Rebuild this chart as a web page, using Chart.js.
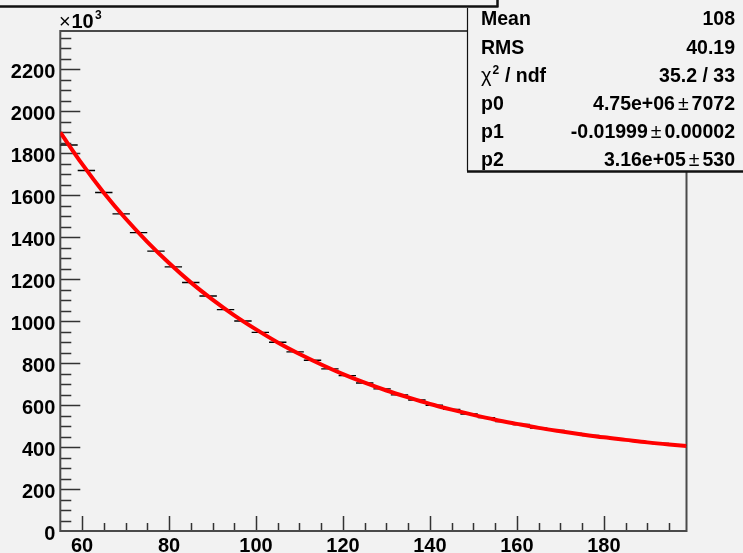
<!DOCTYPE html>
<html>
<head>
<meta charset="utf-8">
<script src="https://cdn.jsdelivr.net/npm/chart.js@4.4.1/dist/chart.umd.min.js"></script>
<style>
  html, body { margin: 0; padding: 0; background: #f2f2f2; }
  #wrap { width: 743px; height: 553px; position: relative; overflow: hidden; }
  canvas { display: block; }
</style>
</head>
<body>
<div id="wrap"><canvas id="c" width="743" height="553"></canvas></div>
<script>
// Histogram: bin centres (bin width 4) and contents in units of 10^3
const binCenters = [57, 61, 65, 69, 73, 77, 81, 85, 89, 93, 97, 101, 105, 109, 113, 117, 121, 125,
                    129, 133, 137, 141, 145, 149, 153, 157, 161, 165, 169, 173, 177, 181, 185, 189, 193, 197];
const binContents = [1838, 1717, 1612, 1510, 1421, 1333, 1258, 1183, 1119, 1054, 1000, 946, 899, 853, 813, 772, 740, 705,
                     677, 648, 624, 599, 579, 557, 540, 521, 507, 490, 479, 465, 455, 442, 435, 424, 417, 408];
const binHalfWidth = 2;

// Fitted curve sampled along the range
const fitX = [55, 60, 65, 70, 75, 80, 85, 90, 95, 100, 105, 110, 115, 120, 125, 130, 135, 140, 145,
              150, 155, 160, 165, 170, 175, 180, 185, 190, 195, 199];
const fitY = [1898, 1748, 1611, 1488, 1377, 1276, 1184, 1102, 1027, 960, 898, 843, 793, 747, 706, 669, 636, 605, 578,
              553, 530, 510, 491, 475, 460, 446, 434, 422, 412, 405];

// Axis ranges and labelled ticks
const xRange = [55, 199];
const yRange = [0, 2381];
const xTickValues = [60, 80, 100, 120, 140, 160, 180];
const yTickValues = [0, 200, 400, 600, 800, 1000, 1200, 1400, 1600, 1800, 2000, 2200];
const xMinorStep = 5;
const yMinorStep = 50;

// Statistics box rows: label, value, error
const statLabels = ['Mean', 'RMS', 'chi2', 'p0', 'p1', 'p2'];
const statValues = ['108', '40.19', '35.2 / 33', '4.75e+06', '-0.01999', '3.16e+05'];
const statErrors = [null, null, null, '7072', '0.00002', '530'];

const FONT = '"Liberation Sans", Arial, Helvetica, sans-serif';

const markerPoints = [];
binCenters.forEach((c, i) => {
  markerPoints.push({ x: c - binHalfWidth, y: binContents[i] });
  markerPoints.push({ x: c + binHalfWidth, y: binContents[i] });
  markerPoints.push({ x: c + binHalfWidth, y: null });
});
const fitPoints = fitX.map((x, i) => ({ x: x, y: fitY[i] }));

// Frame and inward-pointing tick marks
const framePlugin = {
  id: 'frameTicks',
  beforeDatasetsDraw(chart) {
    const { ctx, chartArea: a, scales: { x, y } } = chart;
    ctx.save();
    ctx.strokeStyle = '#333';
    ctx.lineWidth = 1.5;
    ctx.beginPath();
    for (let v = Math.ceil(yRange[0] / yMinorStep) * yMinorStep; v <= yRange[1]; v += yMinorStep) {
      if (v === yRange[0]) continue;
      const py = Math.round(y.getPixelForValue(v)) + 0.5;
      const len = (v % 200 === 0) ? 20 : 11;
      ctx.moveTo(a.left, py);
      ctx.lineTo(a.left + len, py);
    }
    for (let v = Math.ceil(xRange[0] / xMinorStep) * xMinorStep; v < xRange[1]; v += xMinorStep) {
      if (v === xRange[0]) continue;
      const px = Math.round(x.getPixelForValue(v)) + 0.5;
      const len = (v % 20 === 0) ? 15 : 8;
      ctx.moveTo(px, a.bottom);
      ctx.lineTo(px, a.bottom - len);
    }
    ctx.stroke();
    ctx.strokeStyle = '#4a4a4a';
    ctx.lineWidth = 2;
    ctx.strokeRect(a.left, a.top, a.right - a.left, a.bottom - a.top);
    ctx.restore();
  },
  afterDraw(chart) {
    const { ctx } = chart;
    ctx.save();
    // title pad (mostly above the canvas)
    ctx.fillStyle = '#f2f2f2';
    ctx.fillRect(0, -20, 498, 26);
    ctx.strokeStyle = '#111';
    ctx.lineWidth = 2.5;
    ctx.beginPath();
    ctx.moveTo(0, 6.5); ctx.lineTo(498, 6.5);
    ctx.moveTo(497.5, 0); ctx.lineTo(497.5, 7.5);
    ctx.stroke();

    // statistics box
    ctx.fillStyle = '#f2f2f2';
    ctx.fillRect(467, 8, 290, 163);
    ctx.strokeStyle = '#111';
    ctx.lineWidth = 1.2;
    ctx.beginPath();
    ctx.moveTo(467.5, 8); ctx.lineTo(467.5, 171);
    ctx.stroke();
    ctx.lineWidth = 2.6;
    ctx.beginPath();
    ctx.moveTo(467, 171.5); ctx.lineTo(743, 171.5);
    ctx.stroke();

    const baselines = [25, 53.5, 81.5, 110, 138, 166];
    const right = 735, left = 481;
    ctx.fillStyle = '#000';
    ctx.textBaseline = 'alphabetic';
    statLabels.forEach((lab, i) => {
      const by = baselines[i];
      ctx.textAlign = 'left';
      if (lab === 'chi2') {
        ctx.font = '20px ' + FONT;
        ctx.fillText('\u03c7', left, by);
        const w = ctx.measureText('\u03c7').width;
        ctx.font = 'bold 12px ' + FONT;
        ctx.fillText('2', left + w + 1, by - 8);
        ctx.font = 'bold 19.5px ' + FONT;
        ctx.fillText(' / ndf', left + w + 8, by);
      } else {
        ctx.font = 'bold 19.5px ' + FONT;
        ctx.fillText(lab, left, by);
      }
      ctx.textAlign = 'right';
      ctx.font = 'bold 19.5px ' + FONT;
      if (statErrors[i] !== null) {
        ctx.fillText(statErrors[i], right, by);
        const we = ctx.measureText(statErrors[i]).width;
        ctx.font = '19.5px ' + FONT;
        const pmX = right - we - 3;
        ctx.fillText('\u00b1', pmX, by);
        const wp = ctx.measureText('\u00b1').width;
        ctx.font = 'bold 19.5px ' + FONT;
        ctx.fillText(statValues[i], pmX - wp - 3, by);
      } else {
        ctx.fillText(statValues[i], right, by);
      }
    });

    // axis multiplier
    ctx.textAlign = 'left';
    ctx.font = '20px ' + FONT;
    ctx.fillText('\u00d7', 59, 28);
    ctx.font = 'bold 20px ' + FONT;
    ctx.fillText('10', 71.5, 28);
    ctx.font = 'bold 12px ' + FONT;
    ctx.fillText('3', 95, 19);
    ctx.restore();
  }
};

new Chart(document.getElementById('c'), {
  type: 'scatter',
  data: {
    datasets: [
      {
        type: 'line',
        data: fitPoints,
        borderColor: '#ff0000',
        borderWidth: 4,
        pointRadius: 0,
        cubicInterpolationMode: 'monotone',
        fill: false
      },
      {
        type: 'line',
        data: markerPoints,
        borderColor: '#000',
        borderWidth: 1.4,
        pointRadius: 0,
        spanGaps: false,
        fill: false
      }
    ]
  },
  options: {
    responsive: false,
    animation: false,
    devicePixelRatio: 1,
    layout: { padding: { left: 0, right: 56.5, top: 31, bottom: 0 } },
    plugins: { legend: { display: false }, tooltip: { enabled: false }, title: { display: false } },
    scales: {
      x: {
        type: 'linear',
        min: xRange[0],
        max: xRange[1],
        grid: { display: false, drawTicks: false },
        border: { display: false },
        afterBuildTicks: s => { s.ticks = xTickValues.map(v => ({ value: v })); },
        afterFit: s => { s.height = 22; },
        ticks: { color: '#000', font: { family: FONT, size: 20, weight: 'bold' }, padding: 3, maxRotation: 0, autoSkip: false,
                 callback: v => String(v) }
      },
      y: {
        type: 'linear',
        min: yRange[0],
        max: yRange[1],
        grid: { display: false, drawTicks: false },
        border: { display: false },
        afterBuildTicks: s => { s.ticks = yTickValues.map(v => ({ value: v })); },
        afterFit: s => { s.width = 60.3; },
        ticks: { color: '#000', font: { family: FONT, size: 20, weight: 'bold' }, padding: 5, autoSkip: false,
                 labelOffset: 3, callback: v => String(v) }
      }
    }
  },
  plugins: [framePlugin]
});
</script>
</body>
</html>
